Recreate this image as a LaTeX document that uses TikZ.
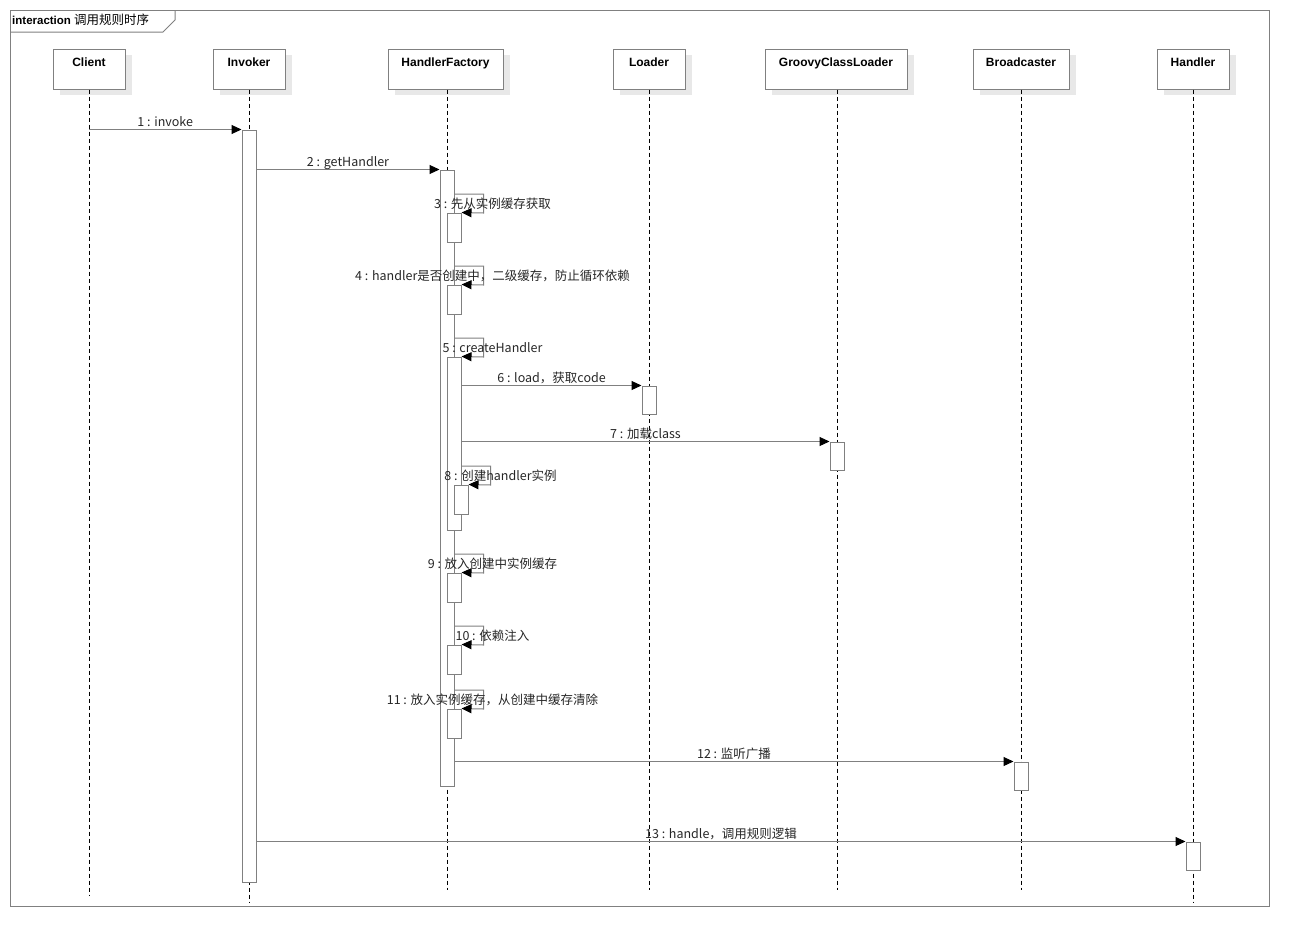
\documentclass[tikz,border=0pt]{standalone}
\usepackage{fontspec}
\setmainfont{Liberation Sans}
\newfontfamily\cjk{Noto Sans CJK SC}
\usepackage{xcolor}
\usepackage{tikz}
\usetikzlibrary{arrows.meta, shadows}

\begin{document}
\begin{tikzpicture}[x=1pt, y=-1pt]
    % Define the styles
    \tikzstyle{frame} = [draw=gray, line width=1pt]
    \tikzstyle{head} = [draw=gray, line width=1pt, fill=white, minimum height=40pt, text depth=14pt,
        font=\bfseries\fontsize{12}{14}\selectfont,
        drop shadow={shadow xshift=7pt, shadow yshift=-6pt, fill=black!9, draw=none, opacity=1}]
    \tikzstyle{life} = [draw=black, line width=0.7pt, dash pattern=on 4pt off 3pt]
    \tikzstyle{act} = [draw=gray, line width=1pt, fill=white, minimum width=14pt, inner sep=0pt]
    \tikzstyle{msg} = [draw=gray, line width=1pt, -{Triangle[length=10pt, width=9pt, color=black]}]
    \tikzstyle{lbl} = [font=\cjk\fontsize{12.5}{14}\selectfont, text=black!85, text height=9pt, text depth=2pt, inner sep=0.5pt]

    \useasboundingbox (0,0) rectangle (1309,946);

    % Frame
    \draw[frame] (10,10) rectangle (1269,906);
    \draw[frame] (10,32) -- (163,32) -- (175,20) -- (175,10);
    \node[anchor=west, inner sep=0pt] (frameLbl) at (12,20)
        {\fontsize{11.5}{13}\selectfont\bfseries interaction {\cjk\mdseries\fontsize{12.5}{14}\selectfont 调用规则时序}};

    % Place the lifeline heads
    \node[head, minimum width=72pt]  (client)  at (89,69)   {Client};
    \node[head, minimum width=72pt]  (invoker) at (249,69)  {Invoker};
    \node[head, minimum width=115pt] (factory) at (445.5,69) {HandlerFactory};
    \node[head, minimum width=72pt]  (loader)  at (649,69)  {Loader};
    \node[head, minimum width=142pt] (groovy)  at (836,69)  {GroovyClassLoader};
    \node[head, minimum width=96pt]  (caster)  at (1021,69) {Broadcaster};
    \node[head, minimum width=72pt]  (handler) at (1193,69) {Handler};

    % Lifelines
    \coordinate (clientEnd)  at (89,895);
    \coordinate (invokerEnd) at (249,903);
    \coordinate (factoryEnd) at (447,890);
    \coordinate (loaderEnd)  at (649,890);
    \coordinate (groovyEnd)  at (837,890);
    \coordinate (casterEnd)  at (1021,890);
    \coordinate (handlerEnd) at (1193,903);
    \draw[life] (client) -- (clientEnd);
    \draw[life] (invoker) -- (invokerEnd);
    \draw[life] (factory.south -| factoryEnd) -- (factoryEnd);
    \draw[life] (loader) -- (loaderEnd);
    \draw[life] (groovy.south -| groovyEnd) -- (groovyEnd);
    \draw[life] (caster) -- (casterEnd);
    \draw[life] (handler) -- (handlerEnd);

    % Activations
    \node[act, minimum height=752pt] (aInv) at (249,506)   {};
    \node[act, minimum height=616pt] (aHF)  at (447,478)   {};
    \node[act, minimum height=29pt]  (a3)   at (454,227.5) {};
    \node[act, minimum height=29pt]  (a4)   at (454,299.5) {};
    \node[act, minimum height=173pt] (a5)   at (454,443.5) {};
    \node[act, minimum height=28pt]  (a6)   at (649,400)   {};
    \node[act, minimum height=28pt]  (a7)   at (837,456)   {};
    \node[act, minimum height=29pt]  (a8)   at (461,499.5) {};
    \node[act, minimum height=29pt]  (a9)   at (454,587.5) {};
    \node[act, minimum height=29pt]  (a10)  at (454,659.5) {};
    \node[act, minimum height=29pt]  (a11)  at (454,723.5) {};
    \node[act, minimum height=28pt]  (a12)  at (1021,776)  {};
    \node[act, minimum height=28pt]  (a13)  at (1193,856)  {};

    % Messages
    \draw[msg] (client |- aInv.north) -- node[lbl, above] {1 : invoke} (aInv.north west);
    \draw[msg] (aInv.east |- aHF.north) -- node[lbl, above] {2 : getHandler} (aHF.north west);
    \draw[msg] (aHF.east |- 0,194) -- ++(29,0) -- node[lbl, xshift=9pt, yshift=-1.5pt] {3 : 先从实例缓存获取} ++(0,19) -- (a3.north east);
    \draw[msg] (aHF.east |- 0,266) -- ++(29,0) -- node[lbl, xshift=9pt, yshift=-1.5pt] {4 : handler是否创建中，二级缓存，防止循环依赖} ++(0,19) -- (a4.north east);
    \draw[msg] (aHF.east |- 0,338) -- ++(29,0) -- node[lbl, xshift=9pt, yshift=-1.5pt] {5 : createHandler} ++(0,19) -- (a5.north east);
    \draw[msg] (a5.east |- a6.north) -- node[lbl, above] {6 : load，获取code} (a6.north west);
    \draw[msg] (a5.east |- a7.north) -- node[lbl, above] {7 : 加载class} (a7.north west);
    \draw[msg] (a5.east |- 0,466) -- ++(29,0) -- node[lbl, xshift=10pt, yshift=-1.5pt] {8 : 创建handler实例} ++(0,19) -- (a8.north east);
    \draw[msg] (aHF.east |- 0,554) -- ++(29,0) -- node[lbl, xshift=9pt, yshift=-1.5pt] {9 : 放入创建中实例缓存} ++(0,19) -- (a9.north east);
    \draw[msg] (aHF.east |- 0,626) -- ++(29,0) -- node[lbl, xshift=9pt, yshift=-1.5pt] {10 : 依赖注入} ++(0,19) -- (a10.north east);
    \draw[msg] (aHF.east |- 0,690) -- ++(29,0) -- node[lbl, xshift=9pt, yshift=-1.5pt] {11 : 放入实例缓存，从创建中缓存清除} ++(0,19) -- (a11.north east);
    \draw[msg] (aHF.east |- a12.north) -- node[lbl, above] {12 : 监听广播} (a12.north west);
    \draw[msg] (aInv.east |- a13.north) -- node[lbl, above] {13 : handle，调用规则逻辑} (a13.north west);

\end{tikzpicture}
\end{document}
